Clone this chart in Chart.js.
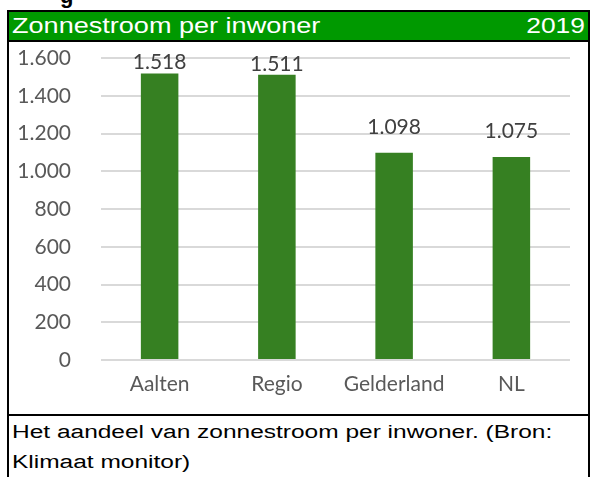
<!DOCTYPE html>
<html><head><meta charset="utf-8">
<script src="https://cdn.jsdelivr.net/npm/chart.js@4"></script>
<style>
html,body{margin:0;padding:0;background:#fff;width:590px;height:477px;overflow:hidden;position:relative;font-family:"Liberation Sans",Arial,sans-serif;}
#cut{position:absolute;left:60px;top:-17px;font:bold 22px "Liberation Sans",Arial,sans-serif;color:#000;}
#frame{position:absolute;left:7px;top:10px;width:579px;height:470px;border:2px solid #000;border-bottom:none;}
#head{position:absolute;left:0;top:0;width:579px;height:28px;background:#009900;color:#fff;font-size:22px;line-height:28px;border-bottom:2px solid #000;}
#head .l{position:absolute;left:3px;top:0;transform:scaleX(1.23);transform-origin:left center;}
#head .r{position:absolute;right:3px;top:0;transform:scaleX(1.2);transform-origin:right center;}
#box{position:absolute;left:0;top:30px;width:579px;height:372px;}
#cap{position:absolute;left:0;top:402px;width:579px;border-top:2px solid #000;font-size:18px;line-height:30px;padding-left:3px;padding-top:1px;color:#000;}
#cap div{transform:scaleX(1.36);transform-origin:left center;white-space:nowrap;}
</style></head>
<body>
<div id="cut">g</div>
<div id="frame">
 <div id="head"><span class="l">Zonnestroom per inwoner</span><span class="r">2019</span></div>
 <div id="box"><canvas id="c" width="579" height="372"></canvas></div>
 <div id="cap"><div>Het aandeel van zonnestroom per inwoner. (Bron:</div><div>Klimaat monitor)</div></div>
</div>
<script>
const categories = ["Aalten","Regio","Gelderland","NL"];
const values = [1518,1511,1098,1075];
const yTicks = [0,200,400,600,800,1000,1200,1400,1600];

// style: extra lift (px) of each value label above its bar, as in the reference
const LABEL_LIFT = [4,4,19,19];

function fmt(v){return String(v).replace(/\B(?=(\d{3})+(?!\d))/g,".");}

const FONT = 'Lato, "Noto Sans", sans-serif';
const labelPlugin = {
  id:'vlabels',
  afterDatasetsDraw(chart){
    const ctx = chart.ctx;
    const meta = chart.getDatasetMeta(0);
    ctx.save();
    ctx.font = '21px ' + FONT;
    ctx.fillStyle = '#404040';
    ctx.textAlign = 'center';
    ctx.textBaseline = 'alphabetic';
    meta.data.forEach((bar,i)=>{
      ctx.fillText(fmt(chart.data.datasets[0].data[i]), bar.x, bar.y - LABEL_LIFT[i]);
    });
    ctx.restore();
  }
};

new Chart(document.getElementById('c'),{
  type:'bar',
  data:{labels:categories,datasets:[{data:values,backgroundColor:'#368022',borderWidth:0,categoryPercentage:1,barPercentage:0.32}]},
  options:{
    responsive:false,animation:false,
    layout:{padding:{left:0,right:18,top:16,bottom:0}},
    plugins:{legend:{display:false},tooltip:{enabled:false}},
    scales:{
      x:{
        grid:{display:false,drawTicks:false},
        border:{display:false},
        ticks:{color:'#595959',font:{family:FONT,size:21},padding:12},
        afterFit(s){s.height=54;}
      },
      y:{
        min:0,max:1600,
        afterBuildTicks(s){s.ticks=yTicks.map(v=>({value:v}));},
        grid:{color:'#d9d9d9',lineWidth:2,drawTicks:false},
        border:{display:false},
        ticks:{color:'#595959',font:{family:FONT,size:21},padding:30,callback:v=>fmt(v)},
        afterFit(s){s.width=92;s.paddingTop=0;s.paddingBottom=0;}
      }
    }
  },
  plugins:[labelPlugin]
});
</script>
</body></html>
